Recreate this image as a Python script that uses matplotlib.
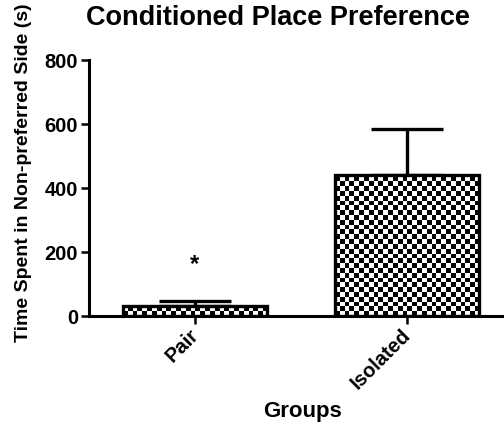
#!/usr/bin/env python3
"""Conditioned place preference: time in non-preferred side, pair vs isolated."""
import matplotlib
matplotlib.use("Agg")
import matplotlib.pyplot as plt
import matplotlib.transforms as mtransforms
import numpy as np

plt.rcParams["font.family"] = ["Liberation Sans", "DejaVu Sans"]
plt.rcParams["font.weight"] = "bold"

groups = ["Pair", "Isolated"]
means = [32, 440]
sems = [15, 145]
sig_marks = ["*", ""]
sig_y = [162, None]

W, H = 504, 425
fig = plt.figure(figsize=(W / 100, H / 100), dpi=100)
ax = fig.add_axes([89 / W, (H - 316) / H, (W - 89) / W, 256 / H])

x = np.arange(len(groups))
ax.set_xlim(-0.5, 1.458)
ax.set_ylim(0, 800)

bars = ax.bar(x, means, 0.68, facecolor="none", edgecolor="black",
              linewidth=2.4, zorder=3)
ax.errorbar(x, means, yerr=[np.zeros(len(x)), sems], fmt="none",
            ecolor="black", elinewidth=2.4, capsize=26, capthick=2.4, zorder=2)

# checkerboard fill, clipped to each bar
cell = 4.8  # px
for b in bars:
    x0, y0 = b.get_x(), b.get_y()
    x1, y1 = x0 + b.get_width(), y0 + b.get_height()
    (px0, py0), (px1, py1) = ax.transData.transform([(x0, y0), (x1, y1)])
    nx = int(np.ceil((px1 - px0) / cell)) + 1
    ny = int(np.ceil((py1 - py0) / cell)) + 1
    board = (np.add.outer(np.arange(ny), np.arange(nx)) % 2).astype(float)
    ex1 = x0 + nx * cell * (x1 - x0) / (px1 - px0)
    ey1 = y0 + ny * cell * (y1 - y0) / (py1 - py0)
    im = ax.imshow(board, cmap="gray", vmin=0, vmax=1,
                   extent=(x0, ex1, y0, ey1), origin="lower",
                   interpolation="nearest", aspect="auto", zorder=2.5)
    im.set_clip_path(b)
ax.set_xlim(-0.5, 1.458)
ax.set_ylim(0, 800)

for xi, mark, yy in zip(x, sig_marks, sig_y):
    if mark:
        ax.text(xi, yy, mark, ha="center", va="center", fontsize=17,
                fontweight="bold")

for s in ["top", "right"]:
    ax.spines[s].set_visible(False)
for s in ["left", "bottom"]:
    ax.spines[s].set_linewidth(2.2)

ax.set_yticks([0, 200, 400, 600, 800])
ax.set_xticks(x)
ax.set_xticklabels(groups, rotation=45, ha="right", rotation_mode="anchor")
ax.tick_params(axis="both", length=6, width=1.8, labelsize=14.5)
ax.tick_params(axis="y", pad=2)
ax.tick_params(axis="x", pad=1)
shift = mtransforms.ScaledTranslation(-6 / 100, 0, fig.dpi_scale_trans)
for lab in ax.get_xticklabels():
    lab.set_fontweight("bold")
    lab.set_transform(lab.get_transform() + shift)
for lab in ax.get_yticklabels():
    lab.set_fontweight("bold")

fig.text(302 / W, (H - 412) / H, "Groups", ha="center", va="center",
         fontsize=16, fontweight="bold")
fig.text(24 / W, (H - 173) / H, "Time Spent in Non-preferred Side (s)",
         rotation=90, ha="center", va="center", fontsize=14, fontweight="bold")
fig.text(278 / W, (H - 18) / H, "Conditioned Place Preference", ha="center",
         va="center", fontsize=19.5, fontweight="bold")

fig.savefig("out.png", dpi=100)
